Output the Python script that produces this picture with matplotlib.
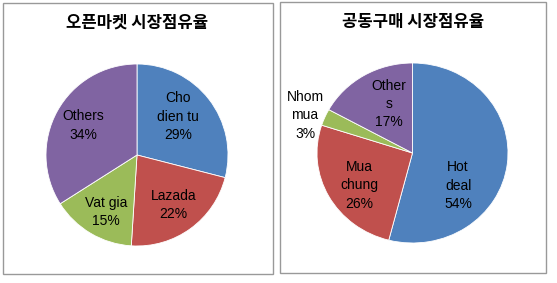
import numpy as np
from matplotlib import pyplot as plt
from matplotlib.patches import Rectangle

plt.rcParams['font.family'] = ['Liberation Sans', 'Noto Sans CJK KR', 'DejaVu Sans']

# 오픈마켓
open_names = ['Cho\ndien tu', 'Lazada', 'Vat gia', 'Others']
open_share = [29, 22, 15, 34]

# 공동구매
group_names = ['Hot\ndeal', 'Mua\nchung', 'Nhom\nmua', 'Other\ns']
group_share = [54, 26, 3, 17]

colors = ['#4F81BD', '#C0504D', '#9BBB59', '#8064A2']

W, H = 557, 283
fig = plt.figure(figsize=(W / 100, H / 100), dpi=100)


def px_axes(cx, cy, rx, ry):
    return fig.add_axes([(cx - rx) / W, (H - cy - ry) / H, 2 * rx / W, 2 * ry / H])


def draw_pie(ax, values, names, dists, offsets):
    wedges, _ = ax.pie(values, colors=colors, startangle=90, counterclock=False,
                       wedgeprops=dict(edgecolor='white', linewidth=0.6))
    ax.set_xlim(-1, 1)
    ax.set_ylim(-1, 1)
    ax.set_aspect('auto')
    ax.axis('off')
    for w, name, v, d, off in zip(wedges, names, values, dists, offsets):
        ang = np.deg2rad((w.theta1 + w.theta2) / 2 + off)
        ax.text(d * np.cos(ang), d * np.sin(ang), f'{name}\n{v}%',
                ha='center', va='center', fontsize=10, linespacing=1.4,
                clip_on=False)


# panel frames
for x0, y0, x1, y1 in [(3, 3, 273, 274), (280, 2, 546, 273)]:
    fig.patches.append(Rectangle((x0 / W, 1 - y1 / H), (x1 - x0) / W, (y1 - y0) / H,
                                 transform=fig.transFigure, fill=False,
                                 edgecolor='#999999', linewidth=1.0))

fig.text(137 / W, 1 - 23 / H, '오픈마켓 시장점유율', ha='center', va='center',
         fontsize=12, fontweight='bold', family=['Noto Sans CJK KR', 'DejaVu Sans'])
fig.text(413 / W, 1 - 22 / H, '공동구매 시장점유율', ha='center', va='center',
         fontsize=12, fontweight='bold', family=['Noto Sans CJK KR', 'DejaVu Sans'])

ax1 = px_axes(137, 155, 91, 91)
draw_pie(ax1, open_share, open_names, [0.62, 0.68, 0.71, 0.67], [5, 0, 2, 0])

ax2 = px_axes(412.5, 153, 95.5, 90)
draw_pie(ax2, group_share, group_names, [0.6, 0.66, 1.2, 0.6], [-30, 4, 3, -6])

fig.savefig('out.png', dpi=100)
